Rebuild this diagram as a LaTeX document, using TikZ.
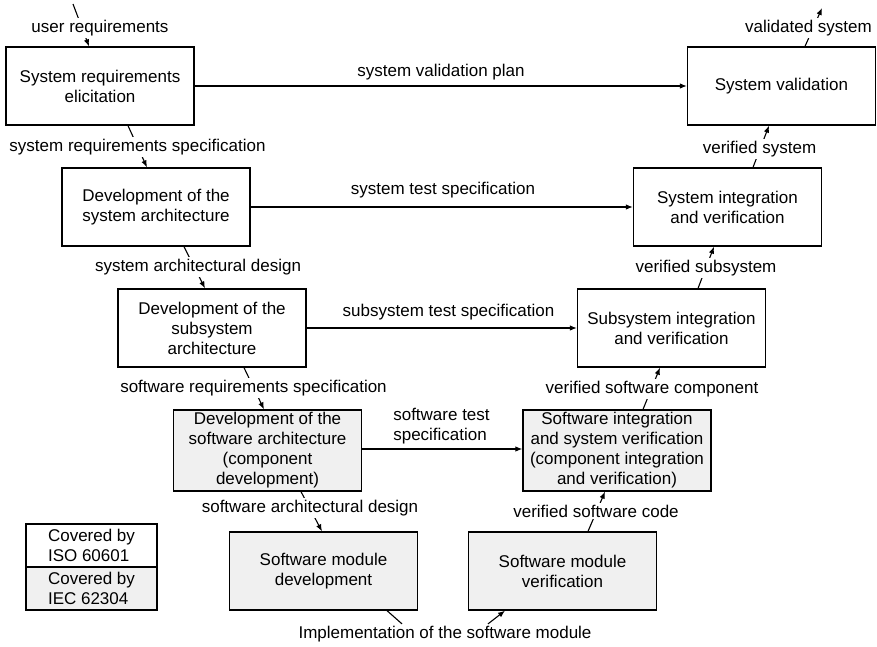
\documentclass[tikz,border=0pt]{standalone}
\usepackage{fontspec}
\setmainfont{Liberation Sans}
\usetikzlibrary{arrows.meta}
\begin{document}
\begin{tikzpicture}[x=1pt,y=-1pt,
  font=\fontsize{17}{20}\selectfont,
  box/.style={draw, line width=1.3pt, minimum width=188pt, minimum height=78pt,
    align=center, inner sep=1pt},
  swbox/.style={box, fill=gray!12},
  legbox/.style={draw, line width=1.3pt, minimum width=131pt, minimum height=43pt,
    align=left, inner sep=1pt},
  lbl/.style={fill=white, inner sep=2pt, align=center},
  tag/.style={inner sep=1pt, align=left},
  flow/.style={line width=1.1pt, -{Latex[length=7pt,width=5.5pt]}},
  link/.style={line width=1.1pt}
]
\useasboundingbox (0,0) rectangle (877,646);

% process boxes
\node[box] (sre)  at (100,86)    {System requirements\\elicitation};
\node[box] (sv)   at (781.5,86)  {System validation};
\node[box] (dsa)  at (156,207)   {Development of the\\system architecture};
\node[box] (siv)  at (727.5,207) {System integration\\and verification};
\node[box] (dssa) at (212,328)   {Development of the\\subsystem\\architecture};
\node[box] (ssiv) at (671.5,328) {Subsystem integration\\and verification};
\node[swbox, minimum height=81pt] (dswa) at (267.5,450.5)
  {Development of the\\software architecture\\(component\\development)};
\node[swbox, minimum height=81pt] (swiv) at (617,450.5)
  {Software integration\\and system verification\\(component integration\\and verification)};
\node[swbox] (smd) at (323.5,571) {Software module\\development};
\node[swbox] (smv) at (562.5,571) {Software module\\verification};

% legend
\node[legbox] (leg1) at (91.5,545.5) {Covered by\\ISO 60601};
\node[legbox, fill=gray!12] (leg2) at (91.5,588.5) {Covered by\\IEC 62304};

% horizontal test-specification flows
\draw[flow] (sre.east) -- (sv.west);
\node[tag] (svp) at (441,72) {system validation plan};
\draw[flow] (dsa.east) -- (siv.west);
\node[tag] (sts) at (443,190) {system test specification};
\draw[flow] (dssa.east) -- (ssiv.west);
\node[tag] (ssts) at (448.5,312) {subsystem test specification};
\draw[flow] (dswa.east |- 0,449) -- (swiv.west |- 0,449);
\node[tag] (swts) at (441.5,426) {software test\\specification};

% descending branch
\coordinate (urin) at (73,4);
\draw[flow] (urin) -- ([xshift=-11pt]sre.north);
\draw[flow] ([xshift=28pt]sre.south) -- ([xshift=-9pt]dsa.north);
\draw[flow] ([xshift=28pt]dsa.south) -- ([xshift=-7pt]dssa.north);
\draw[flow] ([xshift=32pt]dssa.south) -- ([xshift=-3.5pt]dswa.north);
\draw[flow] ([xshift=33.5pt]dswa.south) -- ([xshift=-1.5pt]smd.north);

% ascending branch
\draw[flow] ([xshift=25.5pt]smv.north) -- ([xshift=-12pt]swiv.south);
\draw[flow] ([xshift=26pt]swiv.north) -- ([xshift=-11.5pt]ssiv.south);
\draw[flow] ([xshift=26.5pt]ssiv.north) -- ([xshift=-13.5pt]siv.south);
\draw[flow] ([xshift=25.5pt]siv.north) -- ([xshift=-12.5pt]sv.south);
\coordinate (vsout) at (822,8);
\draw[flow] ([xshift=23.5pt]sv.north) -- (vsout);

% labels sitting on the connectors
\node[lbl] (ur)   at (100,28)    {user requirements};
\node[lbl] (srs)  at (137.5,147) {system requirements specification};
\node[lbl] (sad)  at (198,267)   {system architectural design};
\node[lbl] (swrs) at (253.5,388) {software requirements specification};
\node[lbl] (swad) at (310,508)   {software architectural design};
\node[lbl] (vsc)  at (596,511)   {verified software code};
\node[lbl] (vswc) at (652,389)   {verified software component};
\node[lbl] (vss)  at (706,268)   {verified subsystem};
\node[lbl] (vsy)  at (759.5,149) {verified system};
\node[lbl] (vas)  at (808.5,28)  {validated system};

% module implementation loop at the bottom
\node[lbl] (impl) at (445,634) {Implementation of the software module};
\draw[link] ([xshift=63.5pt]smd.south) -- ([xshift=-43pt]impl.north);
\draw[flow] ([xshift=43pt]impl.north) -- ([xshift=-57.5pt]smv.south);
\end{tikzpicture}
\end{document}
